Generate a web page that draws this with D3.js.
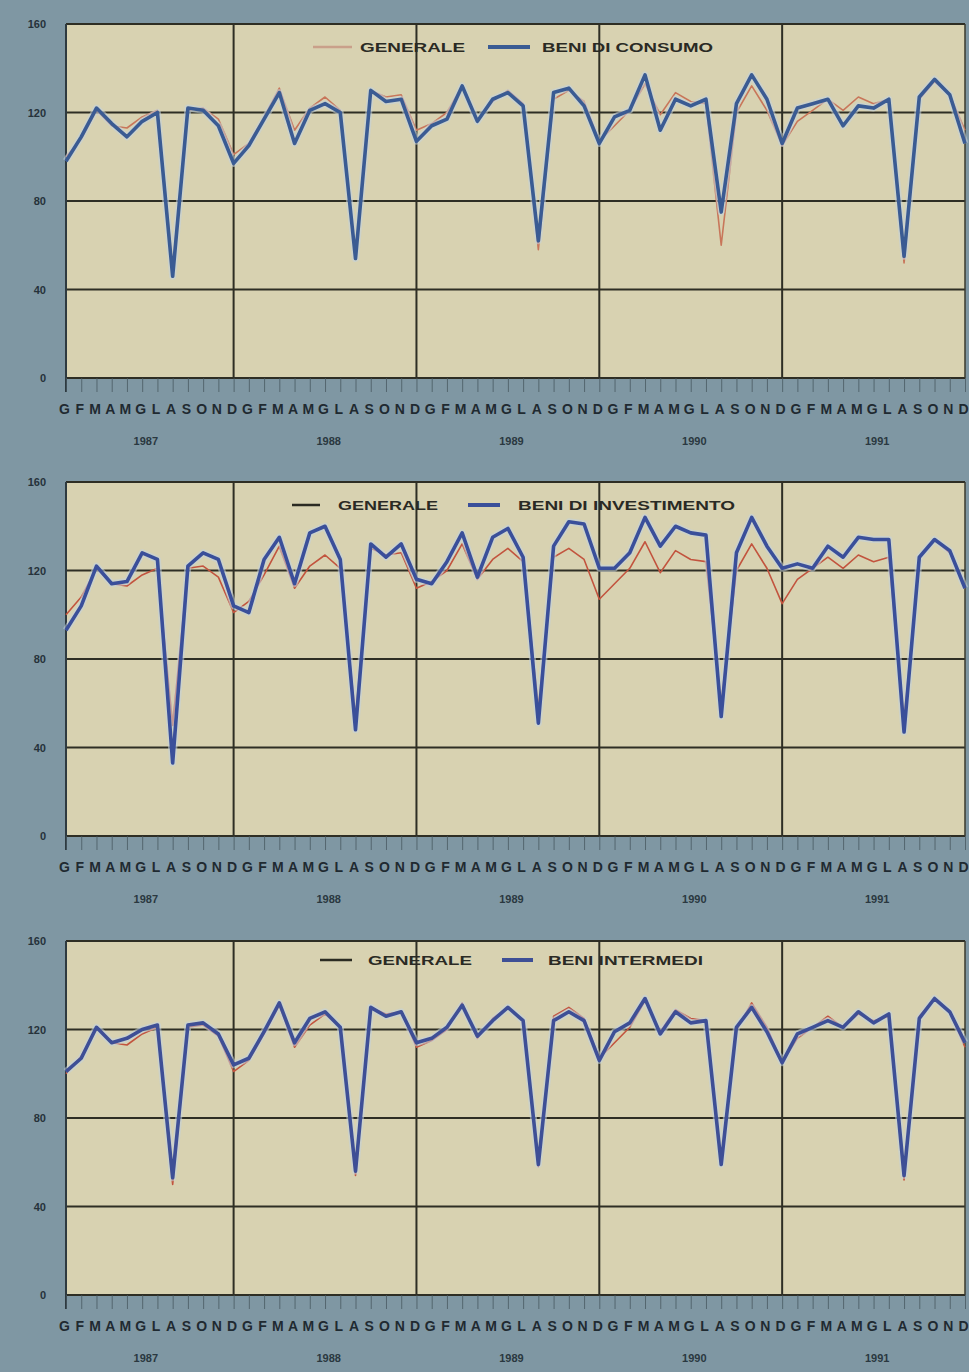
<!DOCTYPE html>
<html>
<head>
<meta charset="utf-8">
<script src="https://d3js.org/d3.v7.min.js"></script>
<style>
  body { margin: 0; background: #7f97a3; }
  svg { display: block; }
  .tick text { font-family: "Liberation Sans", Arial, sans-serif; font-weight: bold; }
</style>
</head>
<body>
<svg id="chart" width="969" height="1372"></svg>
<script>
// months of each year (Italian initials) and years shown
const months = ['G', 'F', 'M', 'A', 'M', 'G', 'L', 'A', 'S', 'O', 'N', 'D'];
const years = ['1987', '1988', '1989', '1990', '1991'];
const yTicks = [0, 40, 80, 120, 160];

// indice generale (same in every panel)
const generale = [
  100, 108, 121, 114, 113, 118, 121, 50, 121, 122, 117, 101,
  106, 118, 131, 112, 122, 127, 121, 54, 130, 127, 128, 112,
  115, 120, 132, 116, 125, 130, 124, 58, 126, 130, 125, 107,
  114, 121, 133, 119, 129, 125, 124, 60, 120, 132, 121, 105,
  116, 121, 126, 121, 127, 124, 126, 52, 126, 134, 128, 112
];
const consumo = [
  98, 109, 122, 115, 109, 116, 120, 46, 122, 121, 114, 97,
  105, 117, 129, 106, 121, 124, 120, 54, 130, 125, 126, 107,
  114, 117, 132, 116, 126, 129, 123, 62, 129, 131, 123, 106,
  118, 121, 137, 112, 126, 123, 126, 75, 124, 137, 126, 106,
  122, 124, 126, 114, 123, 122, 126, 55, 127, 135, 128, 106
];
const investimento = [
  93, 104, 122, 114, 115, 128, 125, 33, 122, 128, 125, 104,
  101, 125, 135, 114, 137, 140, 125, 48, 132, 126, 132, 116,
  114, 124, 137, 117, 135, 139, 126, 51, 131, 142, 141, 121,
  121, 128, 144, 131, 140, 137, 136, 54, 128, 144, 131, 121,
  123, 121, 131, 126, 135, 134, 134, 47, 126, 134, 129, 112
];
const intermedi = [
  101, 107, 121, 114, 116, 120, 122, 53, 122, 123, 118, 104,
  107, 119, 132, 114, 125, 128, 121, 56, 130, 126, 128, 114,
  116, 121, 131, 117, 124, 130, 124, 59, 124, 128, 124, 106,
  119, 123, 134, 118, 128, 123, 124, 59, 121, 130, 119, 105,
  118, 121, 124, 121, 128, 123, 127, 54, 125, 134, 128, 114
];

const panels = [
  { top: 24, name: 'BENI DI CONSUMO', values: consumo, blue: '#3a5b93', gen: '#c8765a', genLeg: '#c9a08a',
    leg: [313, 352, 360, 465, 488, 530, 542, 713], legY: 47 },
  { top: 482, name: 'BENI DI INVESTIMENTO', values: investimento, blue: '#3a4f9a', gen: '#c2543e', genLeg: '#2b2b22',
    leg: [292, 320, 338, 438, 468, 500, 518, 735], legY: 505 },
  { top: 941, name: 'BENI INTERMEDI', values: intermedi, blue: '#3e4f96', gen: '#c2543e', genLeg: '#2b2b22',
    leg: [320, 352, 368, 472, 502, 533, 548, 703], legY: 960 }
];

const svg = d3.select('#chart');
const plotH = 354;
const x = d3.scaleLinear().domain([0, 59]).range([66, 965]);

panels.forEach(p => {
  const y = d3.scaleLinear().domain([0, 160]).range([p.top + plotH, p.top]);
  const g = svg.append('g');

  // plot background
  g.append('rect')
    .attr('x', x(0)).attr('y', p.top)
    .attr('width', x(59) - x(0)).attr('height', plotH)
    .attr('fill', '#d8d2b1');

  // horizontal grid
  g.selectAll('.hgrid').data(yTicks).enter().append('line')
    .attr('x1', x(0)).attr('x2', x(59))
    .attr('y1', d => y(d)).attr('y2', d => y(d))
    .attr('stroke', '#2e2e24').attr('stroke-width', 2);

  // vertical grid at year ends
  g.selectAll('.vgrid').data([11, 23, 35, 47]).enter().append('line')
    .attr('x1', d => x(d)).attr('x2', d => x(d))
    .attr('y1', p.top).attr('y2', p.top + plotH)
    .attr('stroke', '#2e2e24').attr('stroke-width', 2);

  // borders left / right
  g.append('line').attr('x1', x(0)).attr('x2', x(0))
    .attr('y1', p.top).attr('y2', p.top + plotH + 14)
    .attr('stroke', '#2e3a40').attr('stroke-width', 2);
  g.append('line').attr('x1', x(59)).attr('x2', x(59))
    .attr('y1', p.top).attr('y2', p.top + plotH)
    .attr('stroke', '#3a3a2e').attr('stroke-width', 1.5);

  // y axis
  const yAxis = g.append('g')
    .attr('transform', `translate(${x(0)},0)`)
    .call(d3.axisLeft(y).tickValues(yTicks).tickSize(0).tickPadding(20));
  yAxis.select('.domain').remove();
  yAxis.selectAll('text').attr('font-size', 11).attr('fill', '#26323a');

  // x axis with monthly ticks
  const xAxis = g.append('g')
    .attr('transform', `translate(0,${p.top + plotH})`)
    .call(d3.axisBottom(x).tickValues(d3.range(60)).tickSize(14).tickPadding(12)
      .tickFormat(i => months[i % 12]));
  xAxis.select('.domain').remove();
  xAxis.selectAll('line').attr('stroke', '#46555e').attr('stroke-opacity', 0.75);
  xAxis.selectAll('text').attr('font-size', 14).attr('fill', '#1f2a31')
    .attr('transform', 'translate(-2,0)');

  // year labels
  g.selectAll('.year').data(years).enter().append('text')
    .attr('x', (d, i) => x(i * 12 + 5.5) - 4)
    .attr('y', p.top + plotH + 67)
    .attr('text-anchor', 'middle')
    .attr('font-family', '"Liberation Sans", Arial, sans-serif')
    .attr('font-weight', 'bold').attr('font-size', 11)
    .attr('fill', '#2a3840')
    .text(d => d);

  const line = d3.line().x((d, i) => x(i)).y(d => y(d));

  // generale (thin red)
  g.append('path').datum(generale)
    .attr('d', line).attr('fill', 'none')
    .attr('stroke', p.gen).attr('stroke-width', 1.6)
    .attr('stroke-linejoin', 'round');

  // component series (thick blue with light halo)
  g.append('path').datum(p.values)
    .attr('d', line).attr('fill', 'none')
    .attr('stroke', '#c3d2df').attr('stroke-opacity', 0.55).attr('stroke-width', 7)
    .attr('stroke-linejoin', 'round');
  g.append('path').datum(p.values)
    .attr('d', line).attr('fill', 'none')
    .attr('stroke', p.blue).attr('stroke-width', 3.6)
    .attr('stroke-linejoin', 'round');

  // legend
  const L = p.leg;
  g.append('line').attr('x1', L[0]).attr('x2', L[1]).attr('y1', p.legY).attr('y2', p.legY)
    .attr('stroke', p.genLeg).attr('stroke-width', 2.5);
  g.append('line').attr('x1', L[4]).attr('x2', L[5]).attr('y1', p.legY).attr('y2', p.legY)
    .attr('stroke', p.blue).attr('stroke-width', 4);
  [['GENERALE', L[2], L[3]], [p.name, L[6], L[7]]].forEach(t => {
    g.append('text')
      .attr('x', t[1]).attr('y', p.legY + 5)
      .attr('textLength', t[2] - t[1]).attr('lengthAdjust', 'spacingAndGlyphs')
      .attr('font-family', '"Liberation Sans", Arial, sans-serif')
      .attr('font-weight', 'bold').attr('font-size', 13)
      .attr('fill', '#2a2a24')
      .text(t[0]);
  });
});
</script>
</body>
</html>
